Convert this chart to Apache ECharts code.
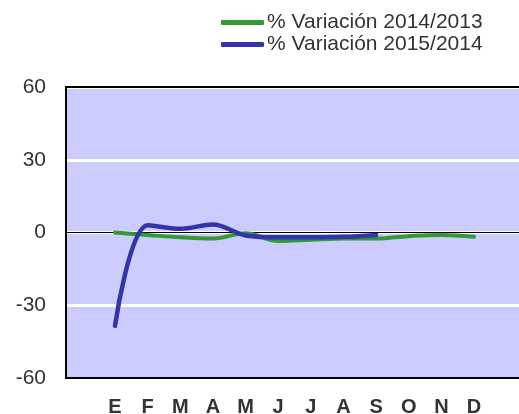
<!DOCTYPE html>
<html>
<head>
<meta charset="utf-8">
<script src="https://cdn.jsdelivr.net/npm/echarts@6/dist/echarts.min.js"></script>
<style>
  html, body { margin: 0; padding: 0; background: #fff; }
  #chart { width: 519px; height: 414px; }
</style>
</head>
<body>
<div id="chart"></div>
<script>
// datos
var meses = ['E', 'F', 'M', 'A', 'M', 'J', 'J', 'A', 'S', 'O', 'N', 'D'];
var var2014 = [0, -1, -2, -2.5, -0.3, -3.5, -3, -2.5, -2.5, -1.5, -1, -1.8];
var var2015 = [-38.5, 3, 1.5, 3.3, -1.2, -2, -2, -1.8, -1];
var yTicks = [-60, -30, 0, 30, 60];

// hueco vacio a cada lado del eje
var cats = [''].concat(meses, ['']);
function pad(arr) {
  var out = [null].concat(arr);
  while (out.length < cats.length) out.push(null);
  return out;
}

var myChart = echarts.init(document.getElementById('chart'));
var option = {
  animation: false,
  textStyle: { fontFamily: 'Liberation Sans, Arial, sans-serif' },
  legend: {
    orient: 'vertical',
    left: 216,
    top: 7,
    itemGap: 1,
    itemWidth: 43,
    itemHeight: 5,
    icon: 'roundRect',
    textStyle: { fontSize: 21, color: '#333', lineHeight: 21, padding: [0, 0, 0, -2] },
    data: ['% Variación 2014/2013', '% Variación 2015/2014']
  },
  grid: {
    left: 66, right: -4, top: 87, bottom: 36,
    outerBoundsMode: 'none',
    show: true,
    backgroundColor: '#ccccff',
    borderColor: '#000',
    borderWidth: 2
  },
  xAxis: [
    {
      type: 'category',
      data: cats,
      boundaryGap: true,
      axisLine: { onZero: false, lineStyle: { color: '#000', width: 2 } },
      axisTick: { show: false },
      axisLabel: { fontSize: 20, fontWeight: 'bold', color: '#333', margin: 19, interval: 0 }
    },
    {
      // linea del cero
      type: 'category',
      data: cats,
      position: 'bottom',
      axisLine: { onZero: true, lineStyle: { color: '#000', width: 1 } },
      axisTick: { show: false },
      axisLabel: { show: false },
      splitLine: { show: false }
    },
    {
      // borde superior
      type: 'category',
      data: cats,
      position: 'top',
      axisLine: { onZero: false, lineStyle: { color: '#000', width: 2 } },
      axisTick: { show: false },
      axisLabel: { show: false },
      splitLine: { show: false }
    }
  ],
  yAxis: {
    type: 'value',
    min: yTicks[0],
    max: yTicks[yTicks.length - 1],
    interval: 30,
    axisLine: { show: true, lineStyle: { color: '#000', width: 2 } },
    axisTick: { show: false },
    axisLabel: { fontSize: 21, color: '#333', margin: 20 },
    splitLine: { show: true, lineStyle: { color: '#fff', width: 3 } }
  },
  series: [
    {
      name: '% Variación 2014/2013',
      type: 'line',
      smooth: 0.4,
      symbol: 'none',
      data: pad(var2014),
      lineStyle: { color: '#339933', width: 4, cap: 'round' },
      itemStyle: { color: '#339933' }
    },
    {
      name: '% Variación 2015/2014',
      type: 'line',
      smooth: 0.35,
      symbol: 'none',
      data: pad(var2015),
      lineStyle: { color: '#3333aa', width: 4.5, cap: 'round' },
      itemStyle: { color: '#3333aa' }
    }
  ]
};
myChart.setOption(option);
</script>
</body>
</html>
